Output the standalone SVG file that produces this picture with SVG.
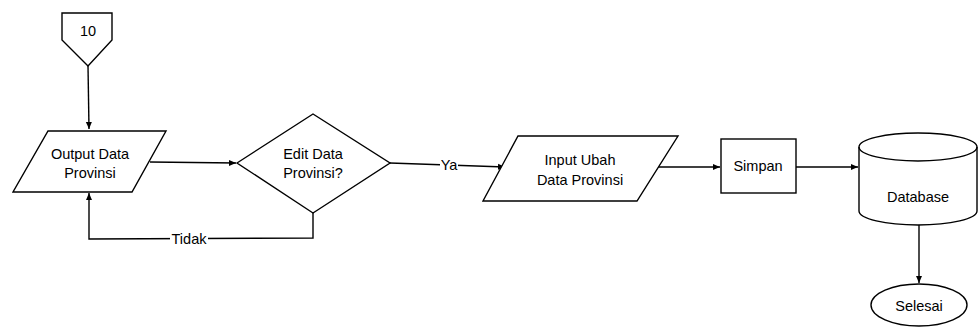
<svg xmlns="http://www.w3.org/2000/svg" width="979" height="327" viewBox="0 0 979 327">
<style>
.s{fill:#fff;stroke:#000;stroke-width:1.4}
.c{fill:none;stroke:#000;stroke-width:1.4}
text{font-family:"Liberation Sans",Arial,sans-serif;font-size:14.5px;fill:#000;text-anchor:middle;dominant-baseline:central}
.lb{fill:#fff}
</style>
<defs>
<marker id="a" markerWidth="8" markerHeight="8" refX="7" refY="4" orient="auto" markerUnits="userSpaceOnUse">
<path d="M0,1 L7,4 L0,7 Z" fill="#000"/>
</marker>
</defs>
<rect width="979" height="327" fill="#fff"/>
<g id="connectors">
<path class="c" d="M88,66 L89,129" marker-end="url(#a)"/>
<path class="c" d="M150,162 L236,163" marker-end="url(#a)"/>
<path class="c" d="M313,213 L313,238 L89,239 L89,193" marker-end="url(#a)"/>
<rect class="lb" x="170" y="231" width="38" height="16"/>
<text x="189" y="239">Tidak</text>
<path class="c" d="M390,163 L505,167" marker-end="url(#a)"/>
<rect class="lb" x="440" y="157" width="18" height="16"/>
<text x="449" y="165">Ya</text>
<path class="c" d="M656,167 L720,167" marker-end="url(#a)"/>
<path class="c" d="M796,167 L858,167" marker-end="url(#a)"/>
<path class="c" d="M919,225 L919,283" marker-end="url(#a)"/>
</g>
<g id="n10">
<path class="s" d="M62,13 L112,13 L112,40 L88,66 L62,40 Z"/>
<text x="88" y="31">10</text>
</g>
<g id="output">
<path class="s" d="M48,131 L166,131 L132,192 L13,192 Z"/>
<text x="90" y="154">Output Data</text>
<text x="90" y="173">Provinsi</text>
</g>
<g id="decision">
<path class="s" d="M237,163 L313,114 L390,163 L313,213 Z"/>
<text x="313" y="154">Edit Data</text>
<text x="313" y="173">Provinsi?</text>
</g>
<g id="input">
<path class="s" d="M518,136 L678,136 L637,201 L483,201 Z"/>
<text x="580" y="160">Input Ubah</text>
<text x="580" y="180">Data Provinsi</text>
</g>
<g id="simpan">
<rect class="s" x="721" y="139" width="75" height="54"/>
<text x="758" y="166">Simpan</text>
</g>
<g id="database">
<path class="s" d="M859,147 L859,211 A59,14 0 0 0 977,211 L977,147 A59,14 0 0 0 859,147 Z"/>
<path class="c" d="M859,147 A59,14 0 0 0 977,147"/>
<text x="918" y="197">Database</text>
</g>
<g id="selesai">
<ellipse class="s" cx="919" cy="305" rx="48" ry="21"/>
<text x="919" y="306">Selesai</text>
</g>
</svg>
